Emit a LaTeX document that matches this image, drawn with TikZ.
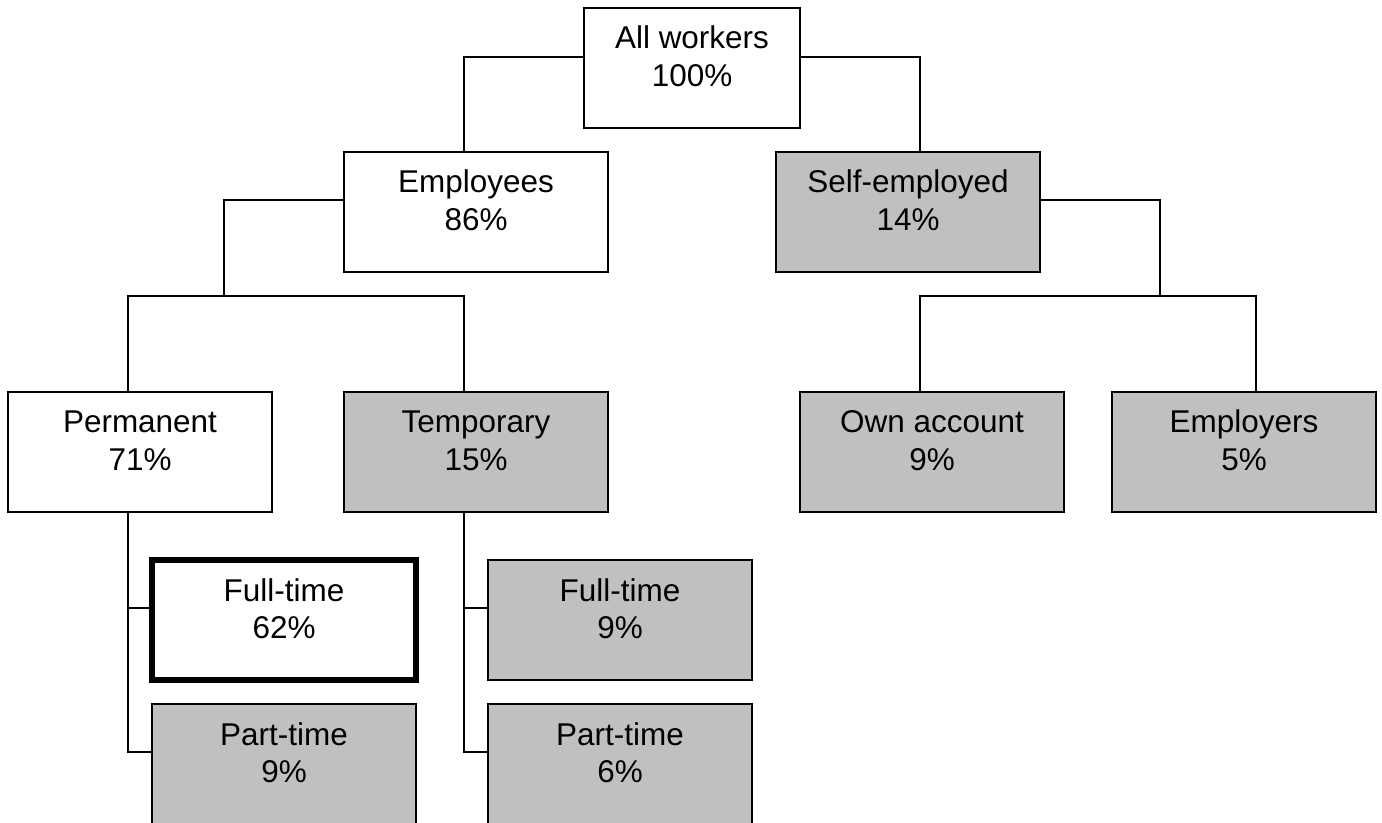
\documentclass[tikz,border=0pt]{standalone}
\usepackage{fontspec}
\setmainfont{Liberation Sans}
\usetikzlibrary{calc}
\definecolor{boxgray}{HTML}{C0C0C0}
\newcommand{\boxtext}[2]{\begin{tabular}{@{}c@{}}#1\\#2\\[11.7pt]\end{tabular}}
\tikzset{
  box/.style={draw=black, line width=1.1pt, minimum width=198pt, minimum height=90pt,
    inner sep=0pt, outer sep=0pt, anchor=north west,
    font=\fontsize{23.6pt}{28pt}\selectfont},
  wbox/.style={box, fill=white},
  gbox/.style={box, fill=boxgray},
  conn/.style={draw=black, line width=1.1pt},
}
\begin{document}
\begin{tikzpicture}[x=0.75pt,y=-0.75pt]
\clip (0,0) rectangle (1382,823);
\node[wbox, minimum width=162pt] (aw) at (584,8) {\boxtext{All workers}{100\%}};
\node[wbox] (emp) at (344,152) {\boxtext{Employees}{86\%}};
\node[gbox] (self) at (776,152) {\boxtext{Self-employed}{14\%}};
\node[wbox] (perm) at (8,392) {\boxtext{Permanent}{71\%}};
\node[gbox] (temp) at (344,392) {\boxtext{Temporary}{15\%}};
\node[gbox] (own) at (800,392) {\boxtext{Own account}{9\%}};
\node[gbox] (empl) at (1112,392) {\boxtext{Employers}{5\%}};
\node[wbox, line width=4.2pt] (ftp) at (152,560) {\boxtext{Full-time}{62\%}};
\node[gbox] (ftt) at (488,560) {\boxtext{Full-time}{9\%}};
\node[gbox] (ptp) at (152,704) {\boxtext{Part-time}{9\%}};
\node[gbox] (ptt) at (488,704) {\boxtext{Part-time}{6\%}};

\coordinate (ebus) at ($(emp.north west)+(-120,144)$);
\coordinate (sbus) at ($(self.north east)+(120,144)$);

\draw[conn] ($(aw.north west)+(0,49)$) -| ($(emp.north west)+(120,0)$);
\draw[conn] ($(aw.north east)+(0,49)$) -| ($(self.north west)+(144,0)$);
\draw[conn] ($(emp.north west)+(0,48)$) -| (ebus);
\draw[conn] ($(perm.north west)+(120,0)$) |- (ebus) -| ($(temp.north west)+(120,0)$);
\draw[conn] ($(self.north east)+(0,48)$) -| (sbus);
\draw[conn] ($(own.north west)+(120,0)$) |- (sbus) -| ($(empl.north west)+(144,0)$);
\draw[conn] ($(perm.south west)+(120,0)$) |- ($(ptp.north west)+(0,48)$);
\draw[conn] ($(perm.south west)+(120,0)$) |- ($(ftp.north west)+(0,48)$);
\draw[conn] ($(temp.south west)+(120,0)$) |- ($(ptt.north west)+(0,48)$);
\draw[conn] ($(temp.south west)+(120,0)$) |- ($(ftt.north west)+(0,48)$);
\end{tikzpicture}
\end{document}
